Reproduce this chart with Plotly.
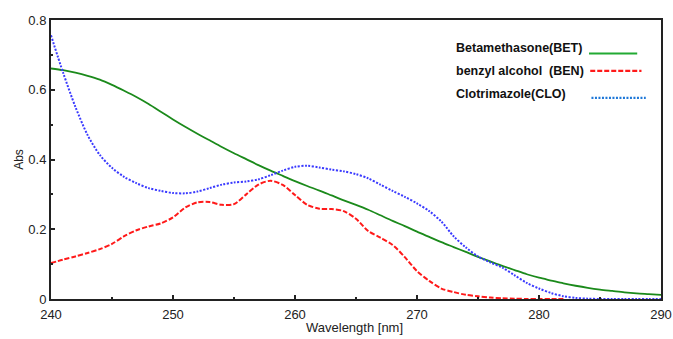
import plotly.graph_objects as go

wl = list(range(240, 291))

bet = [0.661, 0.656, 0.649, 0.640, 0.629, 0.614, 0.597, 0.579, 0.559, 0.537,
       0.515, 0.494, 0.474, 0.455, 0.436, 0.418, 0.401, 0.384, 0.368, 0.353,
       0.338, 0.324, 0.311, 0.297, 0.283, 0.270, 0.256, 0.240, 0.224, 0.209,
       0.193, 0.178, 0.163, 0.149, 0.135, 0.121, 0.108, 0.095, 0.083, 0.071,
       0.061, 0.053, 0.045, 0.038, 0.032, 0.027, 0.023, 0.019, 0.016, 0.014,
       0.012]

clo = [0.756, 0.648, 0.551, 0.470, 0.413, 0.376, 0.350, 0.332, 0.318, 0.310,
       0.304, 0.303, 0.308, 0.318, 0.328, 0.334, 0.337, 0.343, 0.355, 0.368,
       0.379, 0.382, 0.377, 0.371, 0.366, 0.358, 0.346, 0.328, 0.310, 0.293,
       0.274, 0.252, 0.222, 0.180, 0.148, 0.122, 0.105, 0.090, 0.068, 0.046,
       0.030, 0.017, 0.008, 0.003, 0.001, 0.0, 0.0, 0.0, 0.0, 0.0,
       0.0]

wl_ben = list(range(240, 283))
ben = [0.103, 0.113, 0.122, 0.132, 0.143, 0.158, 0.180, 0.197, 0.208, 0.217,
       0.234, 0.262, 0.277, 0.278, 0.270, 0.272, 0.300, 0.328, 0.339, 0.327,
       0.298, 0.270, 0.259, 0.258, 0.252, 0.230, 0.195, 0.176, 0.155, 0.120,
       0.080, 0.052, 0.030, 0.020, 0.012, 0.008, 0.004, 0.002, 0.001, 0.0,
       0.0, 0.0, 0.0]

names = ["Betamethasone(BET)", "benzyl alcohol  (BEN)", "Clotrimazole(CLO)"]
x_ticks = [240, 250, 260, 270, 280, 290]
y_ticks = [0, 0.2, 0.4, 0.6, 0.8]
y_labels = ["0", "0.2", "0.4", "0.6", "0.8"]

fig = go.Figure()
fig.add_trace(go.Scatter(x=wl, y=bet, mode="lines", name=names[0],
                         line=dict(color="#1b8a1b", width=1.8, shape="spline", smoothing=0.8)))
fig.add_trace(go.Scatter(x=wl_ben, y=ben, mode="lines", name=names[1],
                         line=dict(color="#ff1a1a", width=2, dash="5px,2px", shape="spline", smoothing=0.8)))
fig.add_trace(go.Scatter(x=wl, y=clo, mode="lines", name=names[2],
                         line=dict(color="#3a3aff", width=2, dash="2px,1.5px", shape="spline", smoothing=0.8)))

axis_common = dict(showline=True, mirror=True, linecolor="#222222", linewidth=2,
                   ticks="inside", ticklen=4, tickwidth=1.5, tickcolor="#222222",
                   showgrid=False, zeroline=False, automargin=False,
                   tickfont=dict(family="Liberation Sans", size=13, color="#222222"))

fig.update_xaxes(range=[240, 290], tickvals=x_ticks, ticklabelstandoff=2,
                 minor=dict(ticks="inside", ticklen=2, dtick=5, tickcolor="#222222"),
                 **axis_common)
fig.update_yaxes(range=[0, 0.8], tickvals=y_ticks, ticktext=y_labels,
                 title=dict(text="Abs", standoff=2,
                            font=dict(family="Liberation Sans", size=12, color="#222222")),
                 minor=dict(ticks="inside", ticklen=2, dtick=0.1, tickcolor="#222222"),
                 **axis_common)

fig.add_annotation(x=0.498, y=-0.103, xref="paper", yref="paper",
                   text="Wavelength [nm]", showarrow=False,
                   xanchor="center", yanchor="middle",
                   font=dict(family="Liberation Sans", size=13, color="#222222"))

leg_colors = ["#22aa33", "#ff1a1a", "#1f78d8"]
leg_dash = ["solid", "5px,2px", "2px,1.5px"]
text_y = [0.898, 0.817, 0.735]
line_y = [0.880, 0.818, 0.721]
line_x = [(0.882, 0.961), (0.884, 0.968), (0.886, 0.975)]
for i in range(3):
    fig.add_annotation(x=0.66, y=text_y[i], xref="paper", yref="paper",
                       text="<b>" + names[i] + "</b>", showarrow=False,
                       xanchor="left", yanchor="middle",
                       font=dict(family="Liberation Sans", size=12.5, color="#111111"))
    fig.add_shape(type="line", xref="paper", yref="paper",
                  x0=line_x[i][0], x1=line_x[i][1], y0=line_y[i], y1=line_y[i],
                  line=dict(color=leg_colors[i], width=2.2, dash=leg_dash[i]))

fig.update_layout(width=673, height=339, margin=dict(l=51, r=12, t=20, b=40),
                  paper_bgcolor="white", plot_bgcolor="white", showlegend=False)

fig.write_html("out.html")
